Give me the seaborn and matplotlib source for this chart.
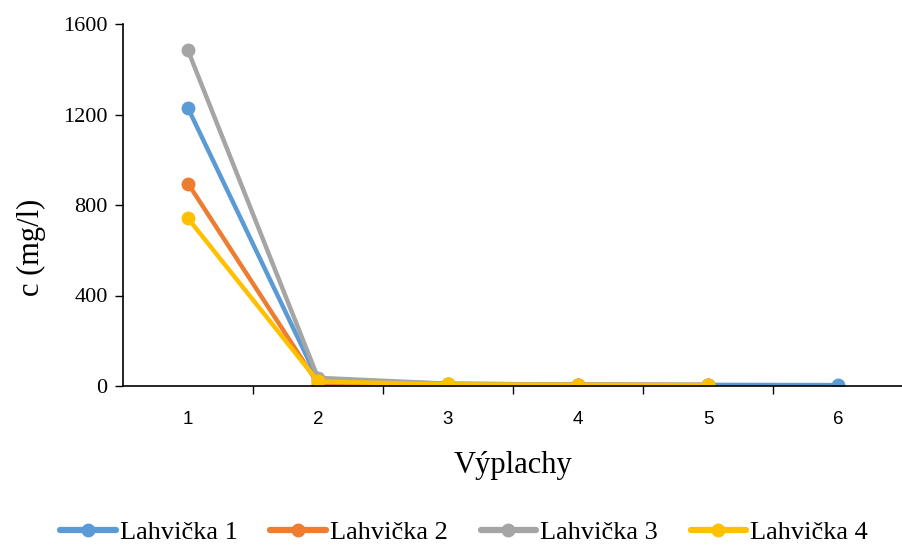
import matplotlib
matplotlib.use("Agg")
import matplotlib.pyplot as plt
import seaborn as sns
import pandas as pd
import numpy as np

sns.set_theme(style="white")
plt.rcParams['font.family'] = ['Liberation Serif', 'DejaVu Serif']
plt.rcParams['text.color'] = 'black'
plt.rcParams['axes.labelcolor'] = 'black'
plt.rcParams['xtick.color'] = 'black'
plt.rcParams['ytick.color'] = 'black'

rinses = [1, 2, 3, 4, 5, 6]
lahvicka1 = [1228, 27, 10, 6, 5, 4]
lahvicka2 = [895, 10, 6, 5, 4]
lahvicka3 = [1483, 36, 10, 6, 5]
lahvicka4 = [741, 20, 7, 5, 4]
series_names = ["Lahvička 1", "Lahvička 2", "Lahvička 3", "Lahvička 4"]
series_values = [lahvicka1, lahvicka2, lahvicka3, lahvicka4]
colors = ["#5B9BD5", "#ED7D31", "#A5A5A5", "#FFC000"]
y_ticks = [0, 400, 800, 1200, 1600]

rows = []
for name, vals in zip(series_names, series_values):
    for x, v in zip(rinses, vals):
        rows.append({"Výplachy": x, "c": v, "série": name})
df = pd.DataFrame(rows)

fig = plt.figure(figsize=(9.03, 5.45), dpi=100)
ax = fig.add_axes([123/903, (545-386)/545, (903-123)/903, (386-24)/545])

sns.lineplot(data=df, x="Výplachy", y="c", hue="série", palette=colors,
             hue_order=series_names, marker="o", markersize=10, markeredgewidth=0,
             linewidth=3.2, ax=ax, legend=True)

ax.set_xlim(0.5, 6.5)
ax.set_ylim(0, 1600)
ax.set_yticks(y_ticks)
ax.set_yticklabels([str(t) for t in y_ticks], fontsize=16, color='black')
ax.set_xticks(rinses)
ax.set_xticklabels([str(r) for r in rinses], fontsize=13.5, family=["Liberation Sans"], color='black')
ax.set_xticks([1.5, 2.5, 3.5, 4.5, 5.5], minor=True)
ax.tick_params(axis='x', which='major', length=0, pad=18)
ax.tick_params(axis='x', which='minor', length=6, width=1, direction='out', bottom=True, color='black')
ax.tick_params(axis='y', which='major', length=6, width=1, direction='out', left=True, color='black', pad=5)

for side in ['top', 'right']:
    ax.spines[side].set_visible(False)
for side in ['left', 'bottom']:
    ax.spines[side].set_color('black')
    ax.spines[side].set_linewidth(1.2)

ax.set_xlabel("Výplachy", fontsize=22, color='black')
ax.set_ylabel("c (mg/l)", fontsize=22, color='black')
ax.xaxis.set_label_coords(0.5, -0.179)
ax.yaxis.set_label_coords(-0.099, 0.384)

handles, labels = ax.get_legend_handles_labels()
for h in handles:
    h.set_linewidth(4.5)
    h.set_markersize(10)
leg = ax.legend(handles, labels, loc='center', bbox_to_anchor=((464 - 123) / 780, (386 - 532) / 362),
                ncol=4, frameon=False, fontsize=19, handlelength=2.1,
                columnspacing=1.25, handletextpad=0.15)
for t in leg.get_texts():
    t.set_color('black')

fig.savefig("out.png", dpi=100)
